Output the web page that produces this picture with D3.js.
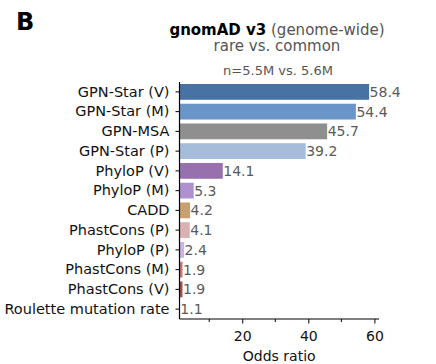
<!DOCTYPE html>
<html lang="en">
<head>
    <meta charset="UTF-8">
    <script src="https://d3js.org/d3.v7.min.js"></script>
    <title>gnomAD v3 odds ratio</title>
    <style>
        body { margin: 0; background: #fff; }
        svg text { font-family: "DejaVu Sans", sans-serif; }
    </style>
</head>
<body>
    <div id="chart"></div>
    <script>
        // models, top to bottom
        const models = ['GPN-Star (V)', 'GPN-Star (M)', 'GPN-MSA', 'GPN-Star (P)', 'PhyloP (V)', 'PhyloP (M)',
                        'CADD', 'PhastCons (P)', 'PhyloP (P)', 'PhastCons (M)', 'PhastCons (V)', 'Roulette mutation rate'];
        const oddsRatio = [58.4, 54.4, 45.7, 39.2, 14.1, 5.3, 4.2, 4.1, 2.4, 1.9, 1.9, 1.1];
        const barColors = ['#4872a4', '#6a95c8', '#8f8f8f', '#a5bddb', '#9671ad', '#b091d0',
                           '#c9a06f', '#dab1b1', '#cdb2e6', '#c47576', '#a04e50', '#9a9a9a'];
        const majorTicks = [20, 40, 60];
        const minorTicks = [10, 30, 50];

        var width = 436, height = 364;
        var axLeft = 179.5, axRight = 379, axTop = 82, axBottom = 319;

        var svg = d3.select("#chart").append("svg")
            .attr("width", width).attr("height", height);

        var x = d3.scaleLinear().domain([1, 61.4]).range([axLeft, axRight]);
        var y = d3.scaleBand().domain(models).range([axTop, axBottom]).paddingInner(0.2).paddingOuter(0.1);

        // bars
        svg.selectAll(".bar")
            .data(models)
            .enter().append("rect")
            .attr("class", "bar")
            .attr("x", x(1))
            .attr("y", function(d) { return y(d); })
            .attr("width", function(d, i) { return x(oddsRatio[i]) - x(1); })
            .attr("height", y.bandwidth())
            .attr("fill", function(d, i) { return barColors[i]; });

        // value labels
        svg.selectAll(".val")
            .data(models)
            .enter().append("text")
            .attr("class", "val")
            .attr("x", function(d, i) { return x(oddsRatio[i]) + 0.5; })
            .attr("y", function(d) { return y(d) + y.bandwidth() / 2; })
            .attr("dy", "0.36em")
            .attr("font-size", "14px")
            .attr("fill", "#5a5a5a")
            .text(function(d, i) { return oddsRatio[i].toFixed(1); });

        // y axis
        var yAxis = svg.append("g")
            .attr("transform", "translate(" + axLeft + ",0)")
            .call(d3.axisLeft(y).tickSize(4).tickPadding(6));
        yAxis.select(".domain").attr("d", "M0," + axTop + "V" + axBottom).attr("stroke", "#000").attr("stroke-width", 1.2);
        yAxis.selectAll("text").attr("font-size", "14.5px").attr("fill", "#111");
        yAxis.selectAll("line").attr("stroke", "#000");

        // x axis
        var xAxis = svg.append("g")
            .attr("transform", "translate(0," + axBottom + ")")
            .call(d3.axisBottom(x).tickValues(majorTicks).tickSize(4.5).tickPadding(8).tickFormat(d3.format("d")));
        xAxis.select(".domain").attr("d", "M" + axLeft + ",0H" + axRight).attr("stroke", "#000").attr("stroke-width", 1.2);
        xAxis.selectAll("text").attr("font-size", "14px").attr("fill", "#111");
        xAxis.selectAll("line").attr("stroke", "#000");

        svg.append("g").selectAll("line")
            .data(minorTicks)
            .enter().append("line")
            .attr("x1", function(d) { return x(d); }).attr("x2", function(d) { return x(d); })
            .attr("y1", axBottom).attr("y2", axBottom + 3)
            .attr("stroke", "#000");

        svg.append("text")
            .attr("x", (axLeft + axRight) / 2)
            .attr("y", 361)
            .attr("text-anchor", "middle")
            .attr("font-size", "14px")
            .attr("fill", "#111")
            .text("Odds ratio");

        // titles
        var t1 = svg.append("text")
            .attr("x", 277).attr("y", 35)
            .attr("text-anchor", "middle")
            .attr("font-size", "15px");
        t1.append("tspan").attr("font-weight", "bold").attr("fill", "#000").text("gnomAD v3");
        t1.append("tspan").attr("fill", "#555").text(" (genome-wide)");

        svg.append("text")
            .attr("x", 277).attr("y", 51)
            .attr("text-anchor", "middle")
            .attr("font-size", "15px")
            .attr("fill", "#555")
            .text("rare vs. common");

        svg.append("text")
            .attr("x", 278).attr("y", 75)
            .attr("text-anchor", "middle")
            .attr("font-size", "13px")
            .attr("fill", "#555")
            .text("n=5.5M vs. 5.6M");

        svg.append("text")
            .attr("x", 16).attr("y", 30)
            .attr("font-size", "24px")
            .attr("font-weight", "bold")
            .text("B");
    </script>
</body>
</html>
